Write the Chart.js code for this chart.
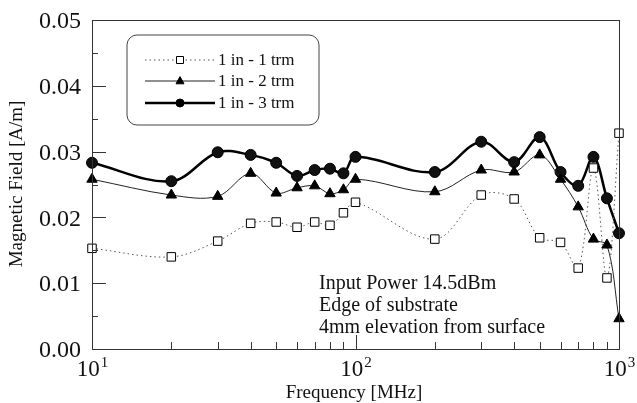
<!DOCTYPE html>
<html lang="en">
<head>
    <meta charset="UTF-8">
    <title>Magnetic Field vs Frequency</title>
    <style>
        html, body { margin: 0; padding: 0; background: #fff; }
        #wrap { width: 637px; height: 403px; }
    </style>
</head>
<body>
    <div id="wrap"><canvas id="chart" width="637" height="403"></canvas></div>

    <script src="https://cdn.jsdelivr.net/npm/chart.js"></script>
    <script>
        // frequencies in MHz
        const freqs = [10, 20, 30, 40, 50, 60, 70, 80, 90, 100, 200, 300, 400, 500, 600, 700, 800, 900, 1000];
        // magnetic field [A/m]
        const trm1 = [0.0153, 0.0140, 0.0164, 0.0191, 0.0193, 0.0185, 0.0193, 0.0188, 0.0207, 0.0223,
                      0.0167, 0.0234, 0.0228, 0.0169, 0.0162, 0.0123, 0.0275, 0.0108, 0.0328];
        const trm2 = [0.0258, 0.0234, 0.0232, 0.0267, 0.0237, 0.0245, 0.0248, 0.0236, 0.0242, 0.0258,
                      0.0239, 0.0272, 0.0269, 0.0295, 0.0258, 0.0216, 0.0167, 0.0158, 0.0046];
        const trm3 = [0.0283, 0.0255, 0.0299, 0.0295, 0.0283, 0.0263, 0.0272, 0.0274, 0.0267, 0.0292,
                      0.0269, 0.0315, 0.0284, 0.0322, 0.0269, 0.0248, 0.0292, 0.0229, 0.0176];

        const seriesNames = ['1 in - 1 trm', '1 in - 2 trm', '1 in - 3 trm'];
        const yTicks = [0, 0.01, 0.02, 0.03, 0.04, 0.05];
        const yTickLabels = ['0.00', '0.01', '0.02', '0.03', '0.04', '0.05'];
        const yMinorTicks = [0.005, 0.015, 0.025, 0.035, 0.045];
        const xMajorTicks = [10, 100, 1000];
        const xExponents = ['1', '2', '3'];
        const xMinorTicks = [20, 30, 40, 50, 60, 70, 80, 90, 200, 300, 400, 500, 600, 700, 800, 900];
        const noteLines = ['Input Power 14.5dBm', 'Edge of substrate', '4mm elevation from surface'];

        const serif = '"Liberation Serif", "Times New Roman", serif';

        function pts(vals) {
            return freqs.map((f, i) => ({ x: f, y: vals[i] }));
        }

        function marker(ctx, style, x, y, r) {
            ctx.save();
            ctx.lineWidth = 1;
            ctx.strokeStyle = '#000';
            ctx.beginPath();
            if (style === 'rect') {
                ctx.fillStyle = '#fff';
                ctx.rect(x - r, y - r, 2 * r, 2 * r);
            } else if (style === 'triangle') {
                ctx.fillStyle = '#000';
                ctx.moveTo(x, y - r * 1.1);
                ctx.lineTo(x + r, y + r * 0.7);
                ctx.lineTo(x - r, y + r * 0.7);
                ctx.closePath();
            } else {
                ctx.fillStyle = '#000';
                ctx.arc(x, y, r, 0, Math.PI * 2);
            }
            ctx.fill();
            ctx.stroke();
            ctx.restore();
        }

        const decorations = {
            id: 'decorations',
            afterDraw(chart) {
                const ctx = chart.ctx;
                const a = chart.chartArea;
                const xs = chart.scales.x, ys = chart.scales.y;

                ctx.save();
                // frame
                ctx.strokeStyle = '#333';
                ctx.lineWidth = 1;
                ctx.strokeRect(a.left + 0.5, a.top + 0.5, a.right - a.left, a.bottom - a.top);

                // y ticks (inside)
                ctx.beginPath();
                yTicks.forEach(v => {
                    const py = Math.round(ys.getPixelForValue(v)) + 0.5;
                    ctx.moveTo(a.left, py); ctx.lineTo(a.left + 14, py);
                });
                yMinorTicks.forEach(v => {
                    const py = Math.round(ys.getPixelForValue(v)) + 0.5;
                    ctx.moveTo(a.left, py); ctx.lineTo(a.left + 6, py);
                });
                // x ticks (inside)
                xMajorTicks.forEach(v => {
                    const px = Math.round(xs.getPixelForValue(v)) + 0.5;
                    ctx.moveTo(px, a.bottom); ctx.lineTo(px, a.bottom - 14);
                });
                xMinorTicks.forEach(v => {
                    const px = Math.round(xs.getPixelForValue(v)) + 0.5;
                    ctx.moveTo(px, a.bottom); ctx.lineTo(px, a.bottom - 7);
                });
                ctx.stroke();

                ctx.fillStyle = '#111';
                // y tick labels
                ctx.font = '24px ' + serif;
                ctx.textAlign = 'right';
                ctx.textBaseline = 'middle';
                yTicks.forEach((v, i) => {
                    ctx.fillText(yTickLabels[i], 81, ys.getPixelForValue(v) + 2);
                });

                // x tick labels 10^n
                ctx.textBaseline = 'alphabetic';
                ctx.textAlign = 'left';
                xMajorTicks.forEach((v, i) => {
                    const px = xs.getPixelForValue(v);
                    ctx.font = '23px ' + serif;
                    const wb = ctx.measureText('10').width;
                    ctx.font = '15px ' + serif;
                    const we = ctx.measureText(xExponents[i]).width;
                    const start = px - (wb + we) / 2;
                    ctx.font = '23px ' + serif;
                    ctx.fillText('10', start, 376);
                    ctx.font = '15px ' + serif;
                    ctx.fillText(xExponents[i], start + wb + 1, 367);
                });

                // axis titles
                ctx.font = '19px ' + serif;
                ctx.textAlign = 'center';
                ctx.fillText('Frequency [MHz]', 354, 398);
                ctx.save();
                ctx.translate(17, 184);
                ctx.rotate(-Math.PI / 2);
                ctx.textBaseline = 'middle';
                ctx.fillText('Magnetic Field [A/m]', 0, 0);
                ctx.restore();

                // annotation
                ctx.font = '20px ' + serif;
                ctx.textAlign = 'left';
                noteLines.forEach((t, i) => {
                    ctx.fillText(t, 319, 289 + i * 22);
                });

                // legend
                const lx = 127, ly = 35, lw = 192, lh = 90, rr = 10;
                ctx.beginPath();
                ctx.moveTo(lx + rr, ly);
                ctx.arcTo(lx + lw, ly, lx + lw, ly + lh, rr);
                ctx.arcTo(lx + lw, ly + lh, lx, ly + lh, rr);
                ctx.arcTo(lx, ly + lh, lx, ly, rr);
                ctx.arcTo(lx, ly, lx + lw, ly, rr);
                ctx.closePath();
                ctx.fillStyle = '#fff';
                ctx.fill();
                ctx.strokeStyle = '#444';
                ctx.lineWidth = 1;
                ctx.stroke();

                const rows = [60, 81, 103];
                chart.data.datasets.forEach((ds, i) => {
                    const y = rows[i];
                    ctx.save();
                    ctx.strokeStyle = ds.borderColor;
                    ctx.lineWidth = ds.borderWidth;
                    ctx.setLineDash(ds.borderDash || []);
                    ctx.beginPath();
                    ctx.moveTo(145, y); ctx.lineTo(215, y);
                    ctx.stroke();
                    ctx.restore();
                    marker(ctx, ds.pointStyle, 180, y, i === 0 ? 3.5 : 4);
                    ctx.fillStyle = '#111';
                    ctx.font = '17px ' + serif;
                    ctx.textAlign = 'left';
                    ctx.textBaseline = 'middle';
                    ctx.fillText(seriesNames[i], 218, y + 1);
                });
                ctx.restore();
            }
        };

        new Chart(document.getElementById('chart').getContext('2d'), {
            type: 'line',
            data: {
                datasets: [{
                    label: seriesNames[0],
                    data: pts(trm1),
                    borderColor: '#555',
                    borderWidth: 1,
                    borderDash: [1.5, 3],
                    pointStyle: 'rect',
                    pointRadius: 6,
                    pointBackgroundColor: '#fff',
                    pointBorderColor: '#000',
                    pointBorderWidth: 1,
                    tension: 0.35,
                    clip: false
                }, {
                    label: seriesNames[1],
                    data: pts(trm2),
                    borderColor: '#222',
                    borderWidth: 1,
                    pointStyle: 'triangle',
                    pointRadius: 6,
                    pointBackgroundColor: '#000',
                    pointBorderColor: '#000',
                    pointBorderWidth: 1,
                    tension: 0.35,
                    clip: false
                }, {
                    label: seriesNames[2],
                    data: pts(trm3),
                    borderColor: '#000',
                    borderWidth: 2.5,
                    pointStyle: 'circle',
                    pointRadius: 5.5,
                    pointBackgroundColor: '#111',
                    pointBorderColor: '#000',
                    pointBorderWidth: 1,
                    tension: 0.35,
                    clip: false
                }]
            },
            options: {
                responsive: false,
                animation: false,
                events: [],
                layout: { padding: { top: 20, right: 18, left: 0, bottom: 0 } },
                plugins: { legend: { display: false }, tooltip: { enabled: false } },
                scales: {
                    x: {
                        type: 'logarithmic',
                        min: 10,
                        max: 1000,
                        grid: { display: false },
                        border: { display: false },
                        ticks: { display: false },
                        afterFit: s => { s.height = 54; }
                    },
                    y: {
                        min: 0,
                        max: 0.05,
                        grid: { display: false },
                        border: { display: false },
                        ticks: { display: false },
                        afterFit: s => { s.width = 92; }
                    }
                }
            },
            plugins: [decorations]
        });
    </script>
</body>
</html>
